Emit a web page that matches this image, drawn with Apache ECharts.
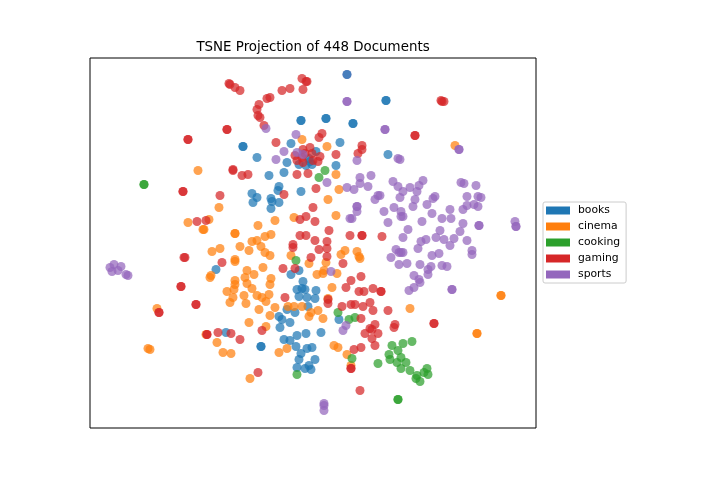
<!DOCTYPE html>
<html>
<head>
<meta charset="utf-8">
<style>html,body{margin:0;padding:0;background:#fff}#chart{width:720px;height:480px}</style>
<script src="https://cdn.jsdelivr.net/npm/echarts@6/dist/echarts.min.js"></script>
</head>
<body>
<div id="chart"></div>
<script>
// Two-dimensional TSNE embedding of the corpus, one [x, y] pair per document.
const books = [[153,282],[153,282],[211,308],[211,308],[201,285],[167,271],[197,266],[179,253],[194,256],[236,310],[236,310],[263,305],[263,305],[296,328],[296,328],[250,286],[226,277],[219,270],[220,267],[209,264],[216,263],[222,264],[246,263],[298,274],[189,242],[188,238],[211,237],[162,235],[167,231],[181,230],[182,227],[189,226],[163,226],[181,220],[126,159],[209,158],[201,154],[213,147],[207,139],[212,140],[215,139],[226,138],[209,132],[217,131],[225,130],[218,122],[197,119],[205,116],[189,112],[192,109],[200,106],[190,101],[136,96],[207,93],[216,95],[194,89],[200,88],[206,82],[171,82],[171,82],[217,80],[222,81],[211,75],[209,69],[225,69],[207,61],[215,60],[219,63],[221,59],[249,109],[231,96]];
// Book document plotted after the sports document that shares its position.
const booksOnTop = [[257,354]];
const cinema = [[212,289],[108,258],[237,282],[246,254],[249,239],[238,229],[246,213],[365,283],[129,221],[98,206],[119,209],[114,199],[113,199],[168,203],[185,208],[204,211],[145,195],[145,195],[181,194],[175,192],[167,188],[162,187],[150,182],[171,182],[130,180],[122,177],[159,178],[175,176],[180,173],[201,173],[145,169],[145,167],[219,165],[173,161],[157,158],[164,154],[155,151],[121,153],[120,151],[145,148],[145,144],[157,145],[181,150],[180,144],[144,139],[162,140],[137,137],[154,133],[143,131],[167,133],[172,131],[179,134],[140,126],[156,125],[176,127],[185,121],[198,122],[204,122],[212,122],[67,120],[169,119],[221,116],[219,112],[228,118],[180,113],[159,106],[176,102],[116,94],[127,86],[58,80],[60,79],[133,76],[141,75],[197,80],[189,76],[160,50],[255,178],[251,174],[267,177],[269,172],[270,170],[236,166],[234,158],[233,155],[227,154],[247,155],[242,141],[238,130],[411,133],[411,133],[387,95],[387,95],[320,120],[233,110],[244,83],[248,81],[257,74],[261,63]];
const cooking = [[54,244],[54,244],[235,258],[229,251],[206,168],[248,116],[259,109],[265,111],[262,70],[302,83],[313,85],[322,87],[308,78],[299,74],[300,69],[311,71],[307,66],[316,66],[288,65],[311,60],[320,58],[337,60],[334,56],[338,54],[327,53],[326,50],[330,47],[308,29],[308,29],[207,54]];
const gaming = [[139,345],[140,344],[145,341],[150,338],[192,338],[200,340],[212,350],[217,347],[216,347],[213,339],[177,330],[180,331],[169,324],[167,319],[168,313],[170,311],[174,303],[137,299],[137,299],[98,289],[98,289],[186,286],[143,259],[143,258],[152,253],[158,254],[207,254],[218,255],[232,295],[229,291],[213,279],[220,281],[205,273],[212,271],[207,268],[222,275],[215,275],[230,272],[228,267],[213,266],[223,268],[246,274],[272,283],[272,279],[268,275],[226,240],[194,234],[223,221],[351,328],[354,327],[352,327],[325,293],[325,293],[93,237],[93,237],[130,233],[107,207],[116,208],[216,212],[210,209],[225,207],[239,198],[260,193],[272,193],[272,193],[292,192],[210,193],[216,193],[225,188],[237,187],[203,184],[203,181],[229,179],[237,180],[237,172],[221,171],[253,165],[95,171],[94,171],[132,166],[193,160],[205,160],[91,142],[91,142],[106,124],[106,124],[195,131],[261,148],[271,152],[256,141],[269,137],[274,137],[283,140],[291,137],[291,137],[238,129],[238,125],[252,122],[261,124],[265,124],[273,122],[280,126],[283,118],[298,118],[271,110],[285,104],[280,100],[282,99],[275,95],[288,95],[282,90],[285,83],[305,104],[304,101],[344,105],[344,105],[271,81],[264,79],[261,60],[261,60],[270,38],[69,116],[69,116],[117,94],[117,94],[128,96],[141,95],[150,89],[172,98],[168,56]];
const sports = [[257,354],[257,327],[257,327],[176,300],[206,294],[194,277],[186,269],[207,276],[213,274],[267,268],[295,299],[295,299],[369,279],[369,279],[308,270],[310,269],[270,251],[281,253],[303,247],[333,248],[371,246],[374,245],[386,243],[270,245],[237,246],[257,241],[264,239],[278,242],[308,242],[313,237],[320,241],[329,243],[327,237],[310,231],[325,229],[323,222],[337,224],[285,229],[288,233],[290,233],[267,222],[267,222],[267,217],[294,217],[304,221],[311,217],[311,212],[313,212],[342,215],[360,219],[373,219],[377,223],[384,224],[388,222],[377,232],[388,232],[391,231],[343,230],[345,232],[260,210],[262,210],[298,206],[332,207],[352,210],[361,210],[373,205],[389,203],[389,203],[425,207],[426,202],[426,202],[318,199],[313,191],[350,198],[370,197],[346,191],[354,189],[364,190],[336,189],[331,187],[377,188],[360,183],[328,180],[306,179],[309,176],[313,176],[311,176],[301,171],[349,175],[342,173],[382,178],[382,174],[309,164],[317,165],[330,164],[341,162],[338,159],[352,163],[357,162],[338,154],[324,153],[329,149],[330,146],[324,141],[319,138],[362,139],[362,139],[241,157],[20,161],[24,164],[31,162],[28,158],[22,157],[36,154],[38,153],[256,103],[253,98],[234,25],[234,23],[234,18]];

const groups = [
  ['books', books, '#1f77b4'],
  ['cinema', cinema, '#ff7f0e'],
  ['cooking', cooking, '#2ca02c'],
  ['gaming', gaming, '#d62728'],
  ['sports', sports, '#9467bd'],
  ['books', booksOnTop, '#1f77b4']
];
const legendNames = ['books', 'cinema', 'cooking', 'gaming', 'sports'];
const fontFamily = '"DejaVu Sans", sans-serif';

const chart = echarts.init(document.getElementById('chart'), null, {renderer: 'canvas'});
chart.setOption({
  animation: false,
  backgroundColor: '#ffffff',
  title: {
    text: 'TSNE Projection of 448 Documents',
    left: 313, top: 41, textAlign: 'center', padding: 0,
    textStyle: {fontFamily, fontSize: 13.4, fontWeight: 'normal', color: '#000000'}
  },
  grid: {left: 90, top: 58, width: 446, height: 370, show: true,
         borderColor: '#000000', borderWidth: 1, backgroundColor: '#ffffff'},
  xAxis: {type: 'value', min: 0, max: 446, show: false, splitLine: {show: false}},
  yAxis: {type: 'value', min: 0.5, max: 370.5, show: false, splitLine: {show: false}},
  legend: {
    orient: 'vertical', left: 543, top: 202,
    icon: 'rect', itemWidth: 24, itemHeight: 8, itemGap: 3,
    padding: [2, 6, 2, 3],
    backgroundColor: '#ffffff', borderColor: '#cccccc', borderWidth: 1, borderRadius: 2,
    itemStyle: {opacity: 1, borderWidth: 0},
    textStyle: {fontFamily, fontSize: 10.8, color: '#000000', padding: [0, 0, 0, 3], lineHeight: 13},
    data: legendNames
  },
  series: groups.map(([name, data, color]) => ({
    name, type: 'scatter', data, symbol: 'circle', symbolSize: 9,
    itemStyle: {color, opacity: 0.72, borderColor: color, borderWidth: 0},
    emphasis: {disabled: true}
  }))
});
</script>
</body>
</html>
